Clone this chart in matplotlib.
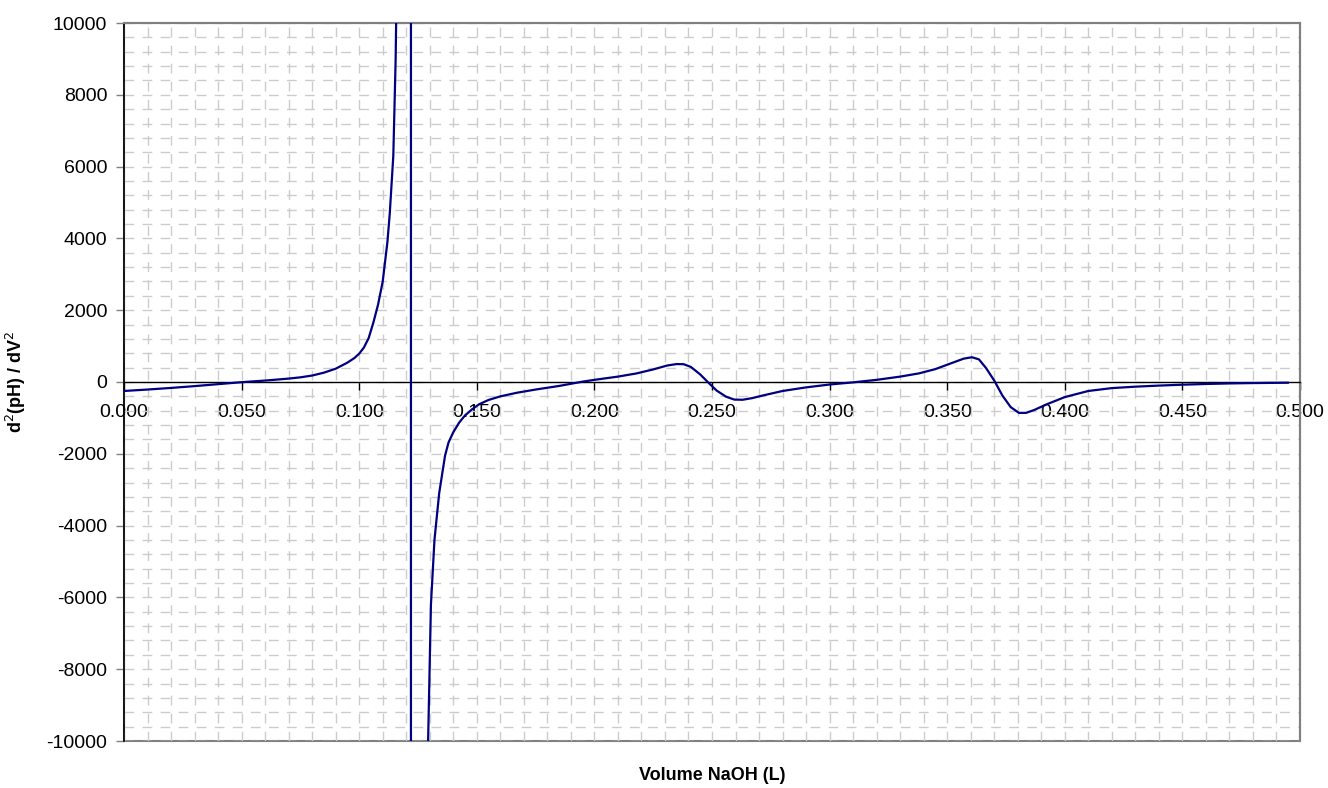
import matplotlib.pyplot as plt
import matplotlib.patches as patches
from matplotlib.ticker import MultipleLocator, FormatStrFormatter

plt.rcParams['font.family'] = ['Liberation Sans', 'DejaVu Sans']
plt.rcParams['axes.unicode_minus'] = False

# Volume NaOH (L) and second derivative of pH
volume = [0.000, 0.010, 0.020, 0.030, 0.040, 0.050, 0.060, 0.070, 0.075, 0.080,
          0.085, 0.090, 0.095, 0.098, 0.100, 0.102, 0.104, 0.106, 0.108, 0.110,
          0.112, 0.113, 0.1145, 0.1155, 0.1165, 0.118, 0.120, 0.122, 0.122, 0.124,
          0.126, 0.128, 0.1293, 0.1305, 0.132, 0.134, 0.1365, 0.138, 0.140, 0.1425,
          0.145, 0.148, 0.151, 0.155, 0.160, 0.167, 0.175, 0.185, 0.195, 0.200,
          0.210, 0.218, 0.225, 0.231, 0.235, 0.238, 0.241, 0.245, 0.2485, 0.252,
          0.256, 0.2595, 0.263, 0.267, 0.272, 0.280, 0.290, 0.300, 0.310, 0.320,
          0.330, 0.338, 0.345, 0.352, 0.357, 0.3605, 0.3635, 0.3665, 0.370, 0.3735,
          0.377, 0.3805, 0.3835, 0.387, 0.392, 0.400, 0.410, 0.420, 0.430, 0.440,
          0.450, 0.460, 0.470, 0.480, 0.495]
d2ph = [-250, -210, -165, -115, -60, -5, 40, 95, 130, 180,
        260, 370, 540, 670, 790, 960, 1220, 1650, 2150, 2800,
        3900, 4700, 6300, 9000, 14000, 25000, 50000, 150000, -150000, -50000,
        -25000, -14000, -10000, -6200, -4400, -3100, -2050, -1680, -1400, -1130,
        -930, -760, -620, -500, -400, -300, -210, -110, 10, 60,
        150, 240, 350, 460, 500, 495, 420, 210, -20, -240,
        -410, -490, -495, -450, -370, -250, -150, -70, -10, 60,
        150, 240, 360, 530, 650, 690, 630, 390, 40, -380,
        -700, -860, -860, -780, -630, -420, -250, -170, -130, -100,
        -75, -55, -40, -30, -20]

fig = plt.figure(figsize=(13.28, 7.88), dpi=100)
ax = fig.add_axes([124 / 1328, 1 - 741 / 788, 1176 / 1328, 718 / 788])

ax.plot(volume, d2ph, color='#000080', lw=1.6, zorder=3,
        solid_joinstyle='round', solid_capstyle='round')

ax.set_xlim(0, 0.5)
ax.set_ylim(-10000, 10000)

ax.xaxis.set_major_locator(MultipleLocator(0.05))
ax.xaxis.set_minor_locator(MultipleLocator(0.01))
ax.xaxis.set_major_formatter(FormatStrFormatter('%.3f'))
ax.yaxis.set_major_locator(MultipleLocator(2000))
ax.yaxis.set_minor_locator(MultipleLocator(400))

ax.grid(which='both', color='#cccccc', linestyle=(0, (7, 6)), lw=1)
ax.set_axisbelow(True)

ax.tick_params(axis='x', which='major', direction='out', length=6, width=1,
               pad=10, labelsize=14)
ax.tick_params(axis='y', which='major', direction='out', length=6, width=1,
               pad=6, labelsize=14, color='#808080')
ax.tick_params(which='minor', length=0)

ax.spines['bottom'].set_position(('data', 0))
ax.spines['bottom'].set_color('black')
ax.spines['bottom'].set_linewidth(1)
ax.spines['left'].set_color('black')
ax.spines['left'].set_linewidth(1.2)
for s in ['top', 'right']:
    ax.spines[s].set_color('#808080')
    ax.spines[s].set_linewidth(1.5)

# lower border of the plot area
ax.add_patch(patches.Rectangle((0, 0), 1, 1, transform=ax.transAxes, fill=False,
                               edgecolor='#808080', lw=1.5, clip_on=False, zorder=0))

fig.text(712 / 1328, 1 - 775 / 788, 'Volume NaOH (L)', ha='center', va='center',
         fontsize=13, fontweight='bold')
fig.text(16 / 1328, 1 - 382 / 788, r'd$^2$(pH) / dV$^2$', ha='center', va='center',
         rotation=90, fontsize=13, fontweight='bold')

fig.savefig('out.png', dpi=100)
